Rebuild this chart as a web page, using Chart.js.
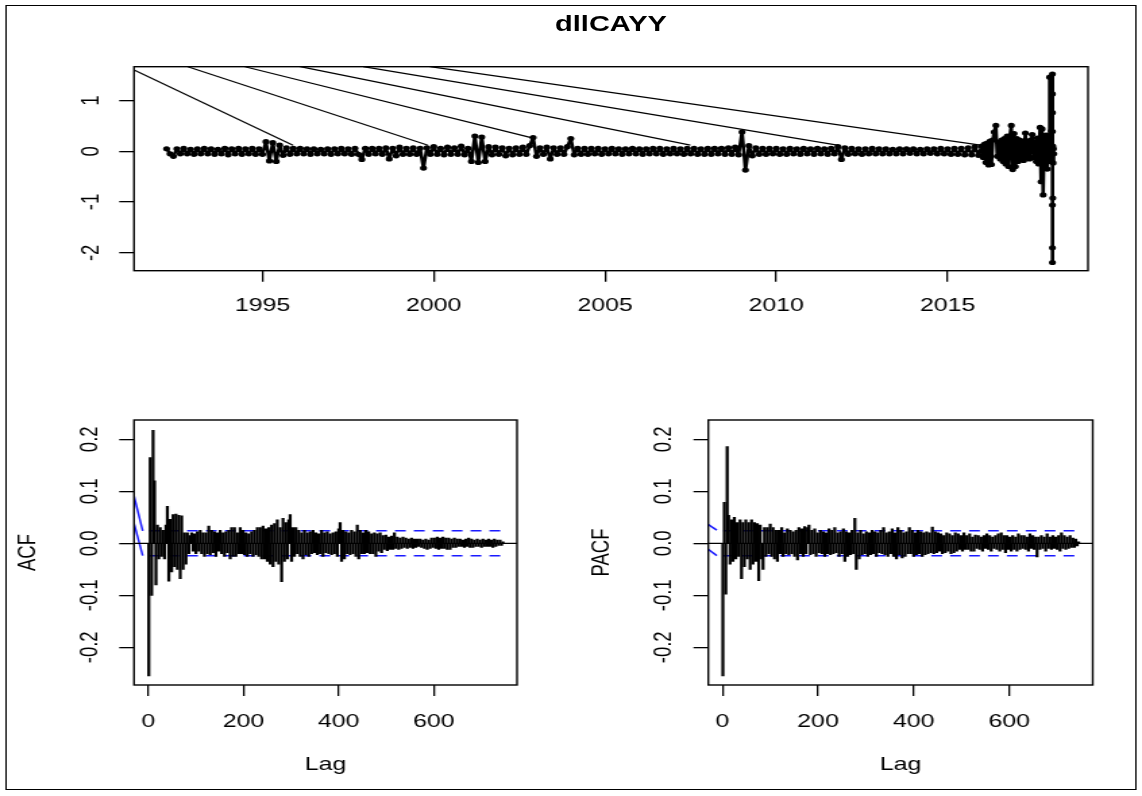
<!DOCTYPE html>
<html>
<head>
<meta charset="utf-8">
<script src="https://cdn.jsdelivr.net/npm/chart.js@4.4.1/dist/chart.umd.min.js"></script>
<style>
  body { margin: 0; background: #fff; overflow: hidden; }
  #page { position: absolute; left: 0; top: 0; width: 846px; height: 796px; transform-origin: 0 0; }
  #frame { position: absolute; left: 3.7px; top: 5px; width: 838.6px; height: 785px; border: 1.6px solid #000; box-sizing: border-box; }
  #title { position: absolute; left: 252.6px; width: 400px; top: 13.5px; text-align: center;
           font: bold 21.5px "Liberation Sans", Arial, sans-serif; line-height: 21.5px; color: #000; }
  .panel { position: absolute; }
</style>
</head>
<body>
<div id="page">
  <div id="frame"></div>
  <div id="title">dllCAYY</div>
  <canvas id="tsChart" class="panel" width="846" height="290" style="left:0;top:40px"></canvas>
  <canvas id="acfChart" class="panel" width="423" height="401" style="left:0;top:395px"></canvas>
  <canvas id="pacfChart" class="panel" width="423" height="401" style="left:423px;top:395px"></canvas>
</div>
<script>
// the reference picture is stretched sideways, so the whole page is too
const stretch = 1142 / 846;
document.getElementById("page").style.transform = `scaleX(${stretch})`;

// ---- series (ts starting 1992.2, 10 obs per year, then the dense tail) ----
const bandStart = 1992.2;
const bandFreq = 10;
const bandValues = [
  0.05, -0.05, -0.1, 0.05, -0.05, 0.06, -0.05, 0.04, -0.06, 0.05,
  -0.05, 0.06, -0.05, 0.05, -0.06, 0.04, -0.05, 0.06, -0.07, 0.05,
  -0.05, 0.06, -0.06, 0.05, -0.05, 0.06, -0.06, 0.05, -0.06, 0.19,
  -0.19, 0.17, -0.2, 0.12, -0.08, 0.07, -0.06, 0.06, -0.05, 0.06,
  -0.05, 0.05, -0.06, 0.05, -0.05, 0.04, -0.05, 0.05, -0.06, 0.05,
  -0.05, 0.06, -0.05, 0.05, -0.06, 0.06, -0.06, -0.16, 0.06, -0.06,
  0.06, -0.05, 0.06, -0.06, 0.07, -0.15, 0.06, -0.09, 0.08, -0.06,
  0.06, -0.06, 0.07, -0.06, 0.06, -0.33, 0.07, -0.06, 0.09, -0.06,
  0.06, -0.07, 0.08, -0.06, 0.07, -0.06, 0.1, -0.07, 0.06, -0.2,
  0.3, -0.22, 0.28, -0.2, 0.09, -0.07, 0.08, -0.06, 0.07, -0.09,
  0.06, -0.07, 0.07, -0.06, 0.08, -0.06, 0.11, 0.27, -0.1, 0.07,
  -0.06, 0.08, -0.15, 0.07, -0.06, 0.07, -0.06, 0.09, 0.25, -0.07,
  0.06, -0.06, 0.06, -0.06, 0.06, -0.05, 0.06, -0.06, 0.05, -0.05,
  0.06, -0.05, 0.05, -0.06, 0.05, -0.05, 0.06, -0.05, 0.05, -0.06,
  0.05, -0.05, 0.06, -0.05, 0.06, -0.06, 0.05, -0.05, 0.06, -0.05,
  0.05, -0.06, 0.06, -0.05, 0.06, -0.06, 0.05, -0.06, 0.06, -0.06,
  0.06, -0.05, 0.06, -0.06, 0.07, -0.06, 0.08, -0.07, 0.38, -0.37,
  0.11, -0.09, 0.07, -0.06, 0.06, -0.06, 0.06, -0.05, 0.06, -0.06,
  0.05, -0.06, 0.06, -0.05, 0.05, -0.06, 0.06, -0.05, 0.05, -0.06,
  0.06, -0.05, 0.05, -0.06, 0.06, -0.05, 0.09, -0.16, 0.07, -0.06,
  0.06, -0.05, 0.05, -0.06, 0.05, -0.05, 0.06, -0.05, 0.05, -0.05,
  0.05, -0.05, 0.04, -0.05, 0.05, -0.05, 0.05, -0.04, 0.05, -0.05,
  0.04, -0.05, 0.05, -0.04, 0.05, -0.05, 0.06, -0.05, 0.05, -0.06,
  0.06, -0.06, 0.06, -0.07, 0.07, -0.07, 0.09, -0.08
];
const tailYears = [
  2016.0, 2016.04, 2016.08, 2016.12, 2016.16, 2016.2, 2016.24, 2016.28, 2016.32, 2016.36,
  2016.41, 2016.45, 2016.5, 2016.54, 2016.58, 2016.62, 2016.66, 2016.7, 2016.74, 2016.78,
  2016.82, 2016.86, 2016.9, 2016.94, 2016.98, 2017.02, 2017.06, 2017.1, 2017.14, 2017.18,
  2017.22, 2017.27, 2017.31, 2017.35, 2017.39, 2017.43, 2017.47, 2017.51, 2017.55, 2017.59,
  2017.62, 2017.66, 2017.7, 2017.73, 2017.76, 2017.79, 2017.82, 2017.85, 2017.88, 2017.91,
  2017.94, 2017.96, 2017.98, 2018.0, 2018.03, 2018.06, 2018.06, 2018.06, 2018.06, 2018.06,
  2018.06, 2018.06, 2018.07, 2018.07, 2018.08, 2018.09, 2018.1
];
const tailValues = [
  0.1, -0.12, 0.14, -0.22, 0.16, -0.27, 0.2, -0.26, 0.22, 0.38,
  0.51, -0.1, 0.18, -0.15, 0.22, -0.2, 0.25, -0.25, 0.3, -0.3,
  0.3, 0.51, -0.36, 0.35, -0.3, 0.25, -0.2, 0.22, -0.15, 0.2,
  -0.18, 0.36, -0.12, 0.2, -0.15, 0.22, 0.33, -0.12, 0.18, -0.2,
  0.26, -0.25, 0.47, -0.6, 0.44, -0.86, 0.3, -0.3, 0.32, -0.35,
  0.2, -0.2, 1.46, -0.1, 0.4, 1.52, -2.19, 1.13, -1.9, 0.76,
  -1.06, 0.39, -0.92, 0.1, -0.23, 0.05, -0.05
];
// the long straight strokes running in from the top edge
const diagStartYears = [1991.25, 1992.82, 1994.49, 1996.1, 1997.94, 1999.89];
const diagStartValues = [1.6, 1.666, 1.666, 1.666, 1.666, 1.666];
const diagEndYears = [1995.89, 1999.83, 2002.9, 2007.49, 2011.78, 2015.96];
const diagEndValues = [0.12, 0.12, 0.26, 0.12, 0.12, 0.12];
const yearTicks = [1995, 2000, 2005, 2010, 2015];
const seriesTicks = [-2, -1, 0, 1];

// ---- correlograms: lags 1, 4, 7, ... 745 ----
const lagStart = 1;
const lagStep = 3;
const acfValues = [
  -0.255, 0.165, -0.1, 0.217, 0.12, -0.08, 0.035, -0.03, 0.03, -0.025,
  0.025, -0.03, 0.035, 0.071, -0.073, 0.046, -0.055, 0.055, -0.045, 0.056,
  -0.05, 0.054, -0.068, 0.053, -0.05, 0.02, -0.04, 0.02, -0.02, 0.015,
  0.02, -0.015, 0.018, -0.02, 0.022, -0.015, 0.025, -0.02, 0.02, -0.025,
  0.02, -0.02, 0.033, -0.022, 0.025, -0.018, 0.022, -0.025, 0.02, -0.015,
  0.025, -0.02, 0.02, -0.025, 0.022, -0.018, 0.025, -0.03, 0.03, -0.025,
  0.03, -0.025, 0.02, -0.02, 0.03, -0.02, 0.025, -0.022, 0.02, -0.025,
  0.018, -0.02, 0.022, -0.025, 0.025, -0.022, 0.03, -0.025, 0.03, -0.03,
  0.033, -0.03, 0.028, -0.035, 0.03, -0.04, 0.035, -0.045, 0.038, -0.035,
  0.045, -0.04, 0.03, -0.074, 0.048, -0.035, 0.04, -0.03, 0.045, 0.055,
  -0.035, 0.03, -0.025, 0.03, -0.02, 0.025, -0.025, 0.02, -0.03, 0.025,
  -0.022, 0.02, -0.025, 0.022, -0.02, 0.025, -0.018, 0.02, -0.022, 0.018,
  -0.02, 0.025, -0.025, 0.02, -0.018, 0.022, -0.02, 0.018, -0.022, 0.02,
  -0.02, 0.022, -0.025, 0.028, 0.04, -0.035, 0.025, -0.03, 0.022, -0.02,
  0.02, -0.022, 0.025, -0.02, 0.022, -0.025, 0.035, -0.03, 0.025, -0.02,
  0.02, -0.02, 0.025, -0.018, 0.022, -0.02, 0.018, -0.02, 0.02, -0.025,
  0.018, -0.015, 0.02, -0.018, 0.015, -0.012, 0.016, -0.014, 0.012, -0.012,
  0.014, -0.012, 0.02, -0.01, 0.012, -0.012, 0.01, -0.01, 0.012, -0.008,
  0.01, -0.01, 0.008, -0.008, 0.01, -0.01, 0.008, -0.008, 0.008, -0.006,
  0.008, -0.008, 0.006, -0.01, 0.008, -0.012, 0.006, -0.01, 0.01, -0.008,
  0.01, -0.01, 0.012, -0.012, 0.01, -0.01, 0.012, -0.01, 0.01, -0.012,
  0.01, -0.012, 0.008, -0.008, 0.01, -0.008, 0.008, -0.006, 0.008, -0.006,
  0.006, -0.008, 0.008, -0.006, 0.01, -0.008, 0.008, -0.008, 0.006, -0.006,
  0.008, -0.006, 0.006, -0.008, 0.008, -0.006, 0.006, -0.006, 0.008, -0.006,
  0.006, -0.008, 0.008, -0.006, 0.006, -0.004, 0.006, -0.004, 0.003
];
const pacfValues = [
  -0.255, 0.079, -0.098, 0.186, 0.054, -0.04, 0.045, -0.035, 0.05, -0.03,
  0.04, -0.025, 0.045, -0.068, 0.04, -0.045, 0.045, -0.03, 0.04, -0.05,
  0.045, -0.04, 0.04, -0.035, 0.038, -0.072, 0.035, -0.03, -0.05, 0.03,
  -0.025, 0.03, -0.02, 0.037, -0.025, 0.03, -0.03, 0.025, -0.035, 0.025,
  -0.02, 0.03, -0.025, 0.02, -0.02, 0.028, -0.022, 0.025, -0.02, 0.022,
  -0.025, 0.025, -0.032, 0.03, -0.02, 0.028, -0.025, 0.032, -0.02, 0.03,
  0.035, -0.022, 0.025, -0.02, 0.028, -0.025, 0.02, -0.018, 0.025, -0.02,
  0.022, -0.025, 0.02, -0.02, 0.028, -0.022, 0.025, -0.02, 0.03, -0.018,
  0.02, -0.025, 0.022, -0.02, 0.028, -0.035, 0.022, -0.025, 0.02, -0.022,
  0.025, -0.02, 0.048, -0.05, 0.02, -0.03, 0.025, -0.022, 0.018, -0.02,
  0.022, -0.025, 0.02, -0.022, 0.025, -0.02, 0.022, -0.025, 0.02, -0.018,
  0.025, -0.02, 0.03, -0.022, 0.02, -0.025, 0.022, -0.02, 0.028, -0.025,
  0.02, -0.03, 0.03, -0.022, 0.025, -0.028, 0.02, -0.025, 0.022, -0.02,
  0.03, -0.02, 0.025, -0.025, 0.02, -0.022, 0.025, -0.02, 0.022, -0.025,
  0.02, -0.022, 0.022, -0.02, 0.02, -0.018, 0.031, -0.02, 0.022, -0.018,
  0.02, -0.015, 0.018, -0.02, 0.015, -0.018, 0.02, -0.015, 0.018, -0.02,
  0.015, -0.018, 0.02, -0.015, 0.018, -0.012, 0.015, -0.015, 0.02, -0.012,
  0.015, -0.012, 0.018, -0.015, 0.012, -0.015, 0.016, -0.01, 0.015, -0.012,
  0.012, -0.015, 0.015, -0.01, 0.018, -0.012, 0.015, -0.015, 0.012, -0.01,
  0.015, -0.012, 0.018, -0.015, 0.02, -0.012, 0.015, -0.018, 0.015, -0.012,
  0.012, -0.015, 0.015, -0.012, 0.012, -0.015, 0.018, -0.012, 0.015, -0.01,
  0.015, -0.012, 0.012, -0.015, 0.018, -0.01, 0.015, -0.012, 0.012, -0.026,
  0.012, -0.012, 0.015, -0.01, 0.012, -0.015, 0.018, -0.01, 0.012, -0.012,
  0.015, -0.01, 0.012, -0.012, 0.015, -0.015, 0.02, -0.01, 0.015, -0.012,
  0.012, -0.01, 0.015, -0.008, 0.01, -0.008, 0.008, -0.005, 0.003
];
const ciLevel = 0.0239;
const acfCiLags = [2, 751];
const pacfCiLags = [2, 746];
// short blue pieces at the far left of each correlogram
const acfSlantLags = [-30, -11.8];
const acfSlantUpper = [0.0905, 0.024];
const acfSlantLower = [0.038, -0.0237];
const pacfSlantLags = [-32.6, -11.7];
const pacfSlantUpper = [0.038, 0.0254];
const pacfSlantLower = [-0.0096, -0.0237];
const lagTicks = [0, 200, 400, 600];
const corrTicks = [-0.2, -0.1, 0, 0.1, 0.2];

const AXIS_FONT = '18.5px "Liberation Sans", Arial, sans-serif';

// R-like box, rotated y labels and axis titles
function rAxes(o) {
  return {
    id: "rAxes",
    afterDraw(chart) {
      const { ctx, chartArea: a, scales: { x, y } } = chart;
      ctx.save();
      ctx.strokeStyle = "#000";
      ctx.lineWidth = 1.4;
      ctx.strokeRect(a.left, a.top, a.right - a.left, a.bottom - a.top);
      ctx.fillStyle = "#000";
      ctx.font = AXIS_FONT;
      ctx.textAlign = "center";
      ctx.textBaseline = "middle";
      x.ticks.forEach((t) => ctx.fillText(o.xFmt(t.value), x.getPixelForValue(t.value), a.bottom + o.xGap));
      y.ticks.forEach((t) => {
        ctx.save();
        ctx.translate(a.left - o.yGap, y.getPixelForValue(t.value));
        ctx.rotate(-Math.PI / 2);
        ctx.fillText(o.yFmt(t.value), 0, 0);
        ctx.restore();
      });
      if (o.xTitle) ctx.fillText(o.xTitle, (a.left + a.right) / 2, a.bottom + o.xTitleGap);
      if (o.yTitle) {
        ctx.save();
        ctx.translate(a.left - o.yTitleGap, (a.top + a.bottom) / 2);
        ctx.rotate(-Math.PI / 2);
        ctx.fillText(o.yTitle, 0, 0);
        ctx.restore();
      }
      ctx.restore();
    },
  };
}

function axis(min, max, tickValues, extra) {
  return Object.assign({
    type: "linear",
    min: min,
    max: max,
    offset: false,
    afterBuildTicks: (s) => { s.ticks = tickValues.map((v) => ({ value: v })); },
    afterFit: (s) => {
      if (s.isHorizontal()) s.height = 0; else s.width = 0;
      s.paddingLeft = s.paddingRight = s.paddingTop = s.paddingBottom = 0;
    },
    ticks: { display: false, autoSkip: false },
    grid: { drawOnChartArea: false, drawTicks: true, tickLength: 11, color: "#000", lineWidth: 1.3, offset: false },
    border: { display: false },
  }, extra || {});
}

const baseOptions = {
  responsive: false,
  animation: false,
  events: [],
  plugins: { legend: { display: false }, tooltip: { enabled: false }, title: { display: false } },
};

// ---- top: the series ----
const seriesPoints = bandValues
  .map((v, i) => ({ x: bandStart + i / bandFreq, y: v }))
  .concat(tailYears.map((t, i) => ({ x: t, y: tailValues[i] })));

const tsDatasets = [{
  data: seriesPoints,
  borderColor: "#000",
  borderWidth: 2.6,
  borderJoinStyle: "round",
  borderCapStyle: "round",
  pointRadius: 2.6,
  pointBackgroundColor: "#000",
  pointBorderWidth: 0,
  tension: 0,
}];
diagStartYears.forEach((t, i) => {
  tsDatasets.push({
    data: [{ x: t, y: diagStartValues[i] }, { x: diagEndYears[i], y: diagEndValues[i] }],
    borderColor: "#000",
    borderWidth: 1.2,
    pointRadius: 0,
  });
});

new Chart(document.getElementById("tsChart"), {
  type: "line",
  data: { datasets: tsDatasets },
  options: Object.assign({}, baseOptions, {
    layout: { padding: { left: 99.3, right: 40, top: 26.7, bottom: 59.3 } },
    scales: {
      x: axis(1991.25, 2019.1, yearTicks, { position: "bottom" }),
      y: axis(-2.352, 1.666, seriesTicks, { position: "left" }),
    },
  }),
  plugins: [rAxes({ xFmt: (v) => String(v), yFmt: (v) => String(v), xGap: 35, yGap: 31.5 })],
});

// ---- correlograms ----
function corrChart(id, values, ciLags, slantLags, slantUpper, slantLower, xmin, xmax, padLeft, padRight, yTitle) {
  const bars = values.map((v, i) => ({ x: lagStart + i * lagStep, y: v }));
  const blue = "#1a1aff";
  const datasets = [
    { type: "bar", data: bars, backgroundColor: "#000", borderWidth: 0, barThickness: 1.6, grouped: false },
    { type: "line", data: [{ x: xmin, y: 0 }, { x: xmax, y: 0 }], borderColor: "#000", borderWidth: 1.2, pointRadius: 0 },
    { type: "line", data: ciLags.map((l) => ({ x: l, y: ciLevel })), borderColor: blue, borderWidth: 1.5, borderDash: [8, 6], pointRadius: 0 },
    { type: "line", data: ciLags.map((l) => ({ x: l, y: -ciLevel })), borderColor: blue, borderWidth: 1.5, borderDash: [8, 6], pointRadius: 0 },
    { type: "line", data: slantLags.map((l, i) => ({ x: l, y: slantUpper[i] })), borderColor: blue, borderWidth: 1.5, pointRadius: 0 },
    { type: "line", data: slantLags.map((l, i) => ({ x: l, y: slantLower[i] })), borderColor: blue, borderWidth: 1.5, pointRadius: 0 },
  ];
  new Chart(document.getElementById(id), {
    type: "bar",
    data: { datasets: datasets },
    options: Object.assign({}, baseOptions, {
      layout: { padding: { left: padLeft, right: padRight, top: 25, bottom: 111 } },
      scales: {
        x: axis(xmin, xmax, lagTicks, { position: "bottom" }),
        y: axis(-0.2725, 0.2371, corrTicks, { position: "left" }),
      },
    }),
    plugins: [rAxes({
      xFmt: (v) => String(v),
      yFmt: (v) => v.toFixed(1),
      xGap: 36.7, yGap: 32.3,
      xTitle: "Lag", xTitleGap: 79.5,
      yTitle: yTitle, yTitleGap: 78.5,
    })],
  });
}

corrChart("acfChart", acfValues, acfCiLags, acfSlantLags, acfSlantUpper, acfSlantLower, -30, 774.6, 99.3, 40, "ACF");
corrChart("pacfChart", pacfValues, pacfCiLags, pacfSlantLags, pacfSlantUpper, pacfSlantLower, -29.5, 774.4, 101.7, 36.5, "PACF");
</script>
</body>
</html>
